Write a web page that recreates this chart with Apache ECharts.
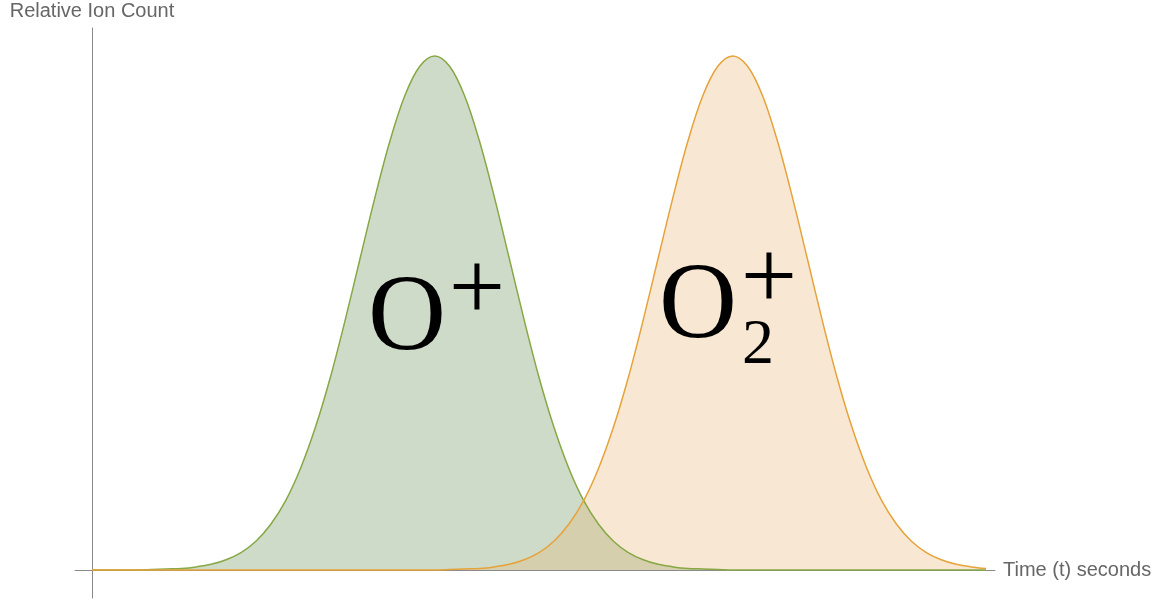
<!DOCTYPE html>
<html>
<head>
<meta charset="utf-8">
<title>Relative Ion Count</title>
<script src="https://cdn.jsdelivr.net/npm/echarts@6/dist/echarts.min.js"></script>
<style>
  html, body { margin: 0; padding: 0; background: #fff; }
  #chart { width: 1173px; height: 600px; }
</style>
</head>
<body>
<div id="chart"></div>
<script>
// time step between samples (seconds), samples start at t = 0
const timeStep = 0.2

// O+ ion count
const oxygenIon = [
  0, 0, 0, 0, 0.001, 0.002, 0.003, 0.006, 0.011, 0.020,
  0.034, 0.056, 0.089, 0.135, 0.198, 0.278, 0.375, 0.487, 0.607, 0.726,
  0.835, 0.923, 0.980, 1.000, 0.980, 0.923, 0.835, 0.726, 0.607, 0.487,
  0.375, 0.278, 0.198, 0.135, 0.089, 0.056, 0.034, 0.020, 0.011, 0.006,
  0.003, 0.002, 0.001, 0, 0, 0, 0, 0, 0, 0,
  0, 0, 0, 0, 0, 0, 0, 0, 0, 0,
  0
]

// O2+ ion count
const dioxygenIon = [
  0, 0, 0, 0, 0, 0, 0, 0, 0, 0,
  0, 0, 0, 0, 0, 0, 0, 0, 0, 0,
  0, 0, 0, 0, 0.001, 0.002, 0.003, 0.006, 0.011, 0.020,
  0.034, 0.056, 0.089, 0.135, 0.198, 0.278, 0.375, 0.487, 0.607, 0.726,
  0.835, 0.923, 0.980, 1.000, 0.980, 0.923, 0.835, 0.726, 0.607, 0.487,
  0.375, 0.278, 0.198, 0.135, 0.089, 0.056, 0.034, 0.020, 0.011, 0.006,
  0.003
]

const times = oxygenIon.map((_, i) => +(i * timeStep).toFixed(1))

const chart = echarts.init(document.getElementById('chart'))

const serif = 'Liberation Serif'
function mathLabel(coord, text, size) {
  return {
    coord: coord,
    label: { formatter: text, fontSize: size }
  }
}

chart.setOption({
  animation: false,
  grid: {
    left: 75,
    right: 178,
    top: 28,
    bottom: 2
  },
  xAxis: {
    type: 'value',
    min: -0.228,
    max: 12.121,
    name: 'Time (t) seconds',
    nameLocation: 'end',
    nameGap: 8,
    nameTextStyle: {
      color: '#666',
      fontSize: 20,
      fontFamily: 'Liberation Sans'
    },
    axisLine: {
      onZero: true,
      lineStyle: { color: '#8a8a8a', width: 1 }
    },
    axisTick: { show: false },
    axisLabel: { show: false },
    splitLine: { show: false }
  },
  yAxis: {
    type: 'value',
    min: -0.0545,
    max: 1.0545,
    name: 'Relative Ion Count',
    nameLocation: 'end',
    nameGap: 7,
    nameTextStyle: {
      color: '#666',
      fontSize: 20,
      fontFamily: 'Liberation Sans'
    },
    axisLine: {
      onZero: true,
      lineStyle: { color: '#8a8a8a', width: 1 }
    },
    axisTick: { show: false },
    axisLabel: { show: false },
    splitLine: { show: false }
  },
  series: [
    {
      name: 'O+',
      type: 'line',
      data: times.map((t, i) => [t, oxygenIon[i]]),
      smooth: 0.35,
      showSymbol: false,
      lineStyle: { color: '#86a845', width: 1.5 },
      areaStyle: { color: 'rgba(92, 135, 75, 0.3)', opacity: 1, origin: 'auto' },
      markPoint: {
        symbolSize: 0,
        label: {
          show: true,
          position: 'inside',
          color: '#000',
          fontFamily: serif
        },
        data: [
          mathLabel([4.228, 0.486], 'O', 108),
          mathLabel([5.168, 0.537], '+', 100)
        ]
      }
    },
    {
      name: 'O2+',
      type: 'line',
      data: times.map((t, i) => [t, dioxygenIon[i]]),
      smooth: 0.35,
      showSymbol: false,
      lineStyle: { color: '#e6a33a', width: 1.5 },
      areaStyle: { color: 'rgba(232, 178, 108, 0.3)', opacity: 1, origin: 'auto' },
      markPoint: {
        symbolSize: 0,
        label: {
          show: true,
          position: 'inside',
          color: '#000',
          fontFamily: serif
        },
        data: [
          mathLabel([8.134, 0.508], 'O', 108),
          mathLabel([9.087, 0.559], '+', 100),
          mathLabel([8.94, 0.436], '2', 64)
        ]
      }
    }
  ]
})
</script>
</body>
</html>
